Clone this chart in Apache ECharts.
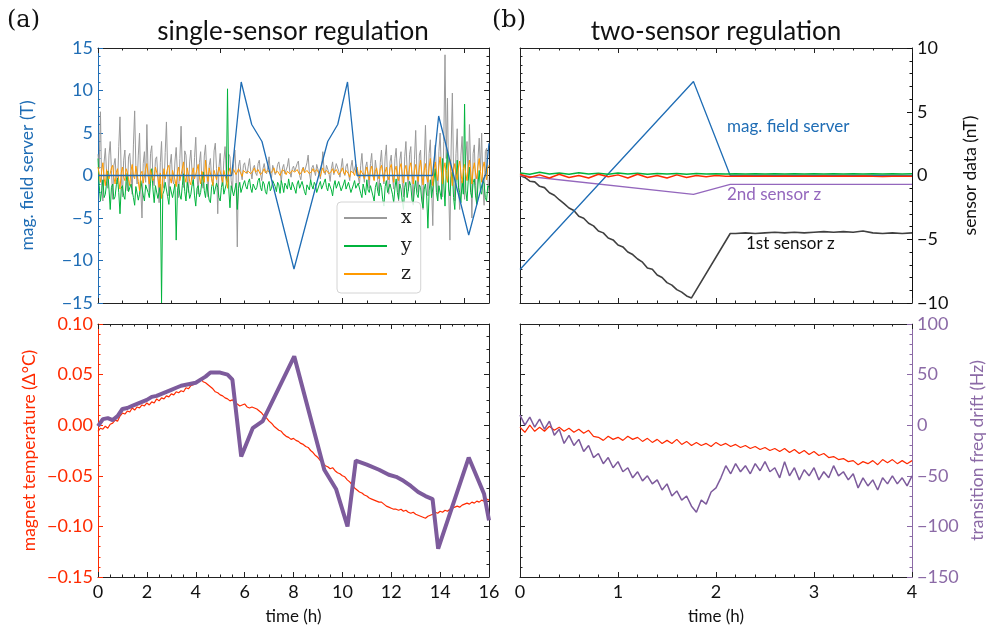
<!DOCTYPE html>
<html><head><meta charset="utf-8">
<script src="https://cdn.jsdelivr.net/npm/echarts@6.0.0/dist/echarts.min.js"></script>
<style>html,body{margin:0;padding:0;background:#fff}#c{width:989px;height:626px}</style>
</head><body><div id="c"></div><script>
// ---------- DATA ----------
// Panel (a) top: sensor noise sampled every 0.05 h (0..16 h)
const xNoise = [
2.5,0.8,7.5,-1.2,-3.0,1.6,3.2,0.4,-1.5,2.4,4.0,0.6,-2.8,1.2,2.0,-0.5,-1.0,3.4,6.9,0.2,
-2.5,1.8,3.0,-0.6,-1.8,2.2,2.6,0.5,-2.2,3.6,7.6,0.9,-1.0,2.4,5.0,-1.6,-5.0,1.4,2.8,-0.8,
6.0,0.3,-2.0,2.6,3.5,-0.4,-1.2,1.9,2.2,0.0,-3.2,1.5,4.0,-0.9,-1.5,2.7,6.3,0.6,-2.4,1.3,
2.5,-0.5,-1.0,1.7,3.3,0.2,-2.6,2.0,5.8,0.7,-1.4,2.9,2.4,-0.3,-2.0,1.6,3.0,0.4,-1.2,2.1,
4.5,0.1,-2.2,1.5,2.8,-0.7,-1.5,2.3,3.6,0.5,-2.5,1.2,2.0,-0.4,-1.0,2.9,3.8,0.8,-4.5,1.0,
2.6,-0.3,-1.2,1.8,3.4,0.3,-0.8,2.5,2.2,-0.6,-1.8,1.4,3.0,0.2,-8.4,1.1,1.8,0.3,-0.5,1.2,
1.5,0.6,0.2,1.1,2.0,0.5,-0.4,0.9,1.2,0.3,0.0,1.4,1.8,0.2,-0.6,0.8,1.4,0.5,0.2,1.0,
2.2,0.4,-0.3,1.2,1.0,0.1,0.4,1.3,1.6,0.6,-0.8,0.9,1.3,0.2,0.1,1.1,2.0,0.4,-0.2,0.8,
1.1,0.5,0.3,1.4,1.7,0.0,-0.5,0.7,1.0,0.4,0.2,1.5,2.4,0.3,-0.6,0.9,1.2,0.6,0.0,1.3,
1.5,0.2,-0.4,1.0,2.8,0.6,0.1,1.2,1.0,0.3,-0.7,0.8,1.6,0.1,0.3,1.4,1.2,0.5,-0.2,0.9,
2.0,0.4,0.0,1.1,1.4,0.2,-0.6,1.0,1.8,0.3,0.4,1.3,1.1,-0.2,-1.0,1.2,2.6,0.4,-0.8,1.0,
1.6,0.2,-1.5,1.4,2.6,0.0,-0.5,1.8,2.0,-0.6,-2.0,1.5,3.0,0.3,-1.0,2.2,3.6,-0.4,-2.2,1.6,
2.4,-0.2,-1.6,2.0,3.2,0.4,-3.0,1.8,2.8,-0.8,-2.5,2.2,4.0,0.6,-1.8,2.5,3.4,-0.5,-3.5,1.9,
5.3,0.2,-2.0,2.4,3.0,-0.9,-4.0,1.6,5.9,0.8,-2.4,2.6,4.2,-1.2,-5.9,1.4,3.6,0.2,-3.0,2.8,
5.0,0.6,-2.5,4.0,14.2,2.0,9.1,-1.5,-7.6,3.0,9.7,0.4,-3.0,2.6,5.5,-1.0,-4.0,2.4,4.6,0.2,
-2.8,2.2,4.0,-0.6,6.0,1.0,-5.0,2.6,3.6,-1.2,-3.0,2.0,4.4,0.6,5.0,-1.4,-3.5,2.8,3.2,-0.4,
-2.0];
const yNoise = [
2.0,-1.2,-3.0,-1.8,-0.5,-2.6,-2.2,-0.9,0.5,-1.6,-4.0,-1.4,-1.0,-2.8,-2.5,-1.1,-0.3,-2.0,-4.5,-1.5,
-1.2,-2.4,-2.8,-0.7,0.3,-1.9,-2.0,-1.0,-0.8,-2.6,-3.5,-1.3,-1.5,-2.9,-2.2,-0.6,-0.4,-2.3,-3.0,-1.1,
-1.0,-2.0,-2.6,-0.9,0.8,-1.7,-3.2,-1.2,-1.4,-2.7,-2.0,-1.0,-15.0,-2.2,-1.8,-0.8,-0.6,-2.5,-3.4,-1.3,
-1.2,-2.6,-2.4,-1.0,-7.6,-1.8,-1.0,-2.3,-2.8,-1.2,0.2,-1.9,-3.0,-0.8,-1.5,-2.7,-2.2,-1.1,-0.5,-2.4,
-3.6,-1.5,-1.2,-2.5,-2.0,-0.7,0.4,-1.8,-2.6,-1.0,-1.0,-2.9,-3.2,-1.3,-0.8,-2.2,-2.4,-0.9,-1.4,-2.6,
-3.0,-1.4,-0.6,-2.2,-2.0,-1.0,10.2,-1.6,-3.8,-1.2,-1.0,-2.4,-2.2,-0.9,-4.0,-1.5,-0.8,-2.0,-1.8,-1.0,
-0.6,-1.3,-1.6,-0.8,-0.4,-1.5,-2.0,-1.0,-0.9,-1.7,-1.4,-0.6,-0.3,-1.4,-1.8,-0.7,-1.0,-1.9,-2.2,-1.1,
-0.7,-1.8,-1.5,-0.6,-0.5,-1.3,-1.9,-0.8,-1.1,-2.1,-0.6,-1.2,-2.0,-0.9,-1.2,-1.6,-0.4,-1.3,-1.7,-0.8,
-0.9,-1.6,-2.1,-1.0,-0.6,-1.5,-1.4,-0.7,-0.8,-1.9,-2.3,-1.1,-1.0,-1.7,-0.5,-1.2,-1.6,-0.8,-1.1,-2.0,
-2.0,-1.1,-0.7,-1.6,-1.5,-0.8,-0.4,-1.4,-1.8,-0.9,-1.0,-1.7,-2.4,-1.2,-0.6,-1.5,-1.3,-0.7,-0.9,-1.8,
-1.9,-1.0,-0.5,-1.6,-1.4,-0.8,-1.0,-2.0,-2.2,-1.1,-0.6,-1.5,-1.7,-0.9,-0.8,-2.1,-2.6,-1.0,-1.2,-2.3,
-0.5,-1.7,-2.0,-1.2,-1.0,-2.4,-3.0,-1.4,-0.8,-1.9,-2.4,-0.9,-1.4,-2.8,-3.6,-1.3,-0.6,-2.0,-2.2,-1.0,
-1.2,-2.2,-3.2,-1.5,-0.4,-2.0,-2.8,-1.0,-1.6,-3.0,-4.0,-1.4,-0.8,-2.6,-2.4,-0.7,-1.2,-2.9,-3.4,-1.6,
-0.6,-2.2,-2.6,-1.1,-1.4,-3.0,-3.8,-1.6,-1.0,-2.4,-6.2,-1.8,-0.5,-2.6,-2.8,-0.4,0.8,-2.0,-3.0,-1.2,
-1.2,-2.8,2.0,-1.0,-3.6,0.6,3.0,-1.6,-2.4,-0.2,0.4,-2.6,-4.0,-0.8,1.8,-1.4,-2.0,-3.2,-0.6,-2.2,
8.4,-1.8,-3.0,-0.6,1.0,-2.0,-2.6,-0.8,-0.4,-2.4,-3.4,-1.0,0.6,-1.8,-2.2,-0.6,-1.0,-2.6,-3.0,-1.2,
-1.4];
const zNoise = [
1.0,0.2,-0.8,0.5,1.5,-0.3,-1.2,0.7,0.6,-0.4,-0.5,0.9,1.2,-0.2,-1.0,0.4,0.8,-0.6,-1.6,0.3,
1.0,-0.2,-0.6,0.8,0.4,-0.5,-1.2,0.6,1.3,0.0,-0.4,1.1,0.9,-0.7,-1.8,0.2,0.5,-0.9,-0.7,0.8,
1.4,0.1,-1.0,0.7,0.6,-0.6,-0.3,1.0,1.1,-0.2,-1.4,0.3,-2.7,-0.5,0.8,-0.4,-0.6,0.9,1.2,-0.3,
-0.9,0.6,0.5,-0.5,-1.3,0.4,1.0,-0.6,-0.4,0.8,1.6,-0.2,-0.8,0.9,0.7,-0.7,-1.1,0.3,0.9,-0.4,
-0.5,0.7,1.3,-0.2,-1.0,0.5,0.4,-0.8,1.8,0.2,-0.7,0.9,1.0,-0.4,-1.2,0.6,0.6,-0.5,-0.3,1.0,
1.1,-0.1,-0.8,0.6,0.5,-0.6,-1.5,0.4,0.9,0.0,-0.2,0.7,0.8,0.1,0.0,0.8,0.7,0.2,-0.1,0.6,
0.8,0.3,0.1,0.5,0.7,0.2,0.0,0.6,0.9,0.4,0.2,0.7,0.6,0.1,-0.1,0.5,0.8,0.3,0.1,0.6,
0.7,0.2,0.0,0.6,0.9,0.3,0.2,0.5,0.6,0.0,-0.1,0.7,0.8,0.4,0.1,0.5,0.7,0.2,0.0,0.6,
0.8,0.4,0.2,0.7,0.6,0.1,-0.1,0.5,0.9,0.3,0.1,0.6,0.7,0.2,0.0,0.5,0.8,0.4,0.2,0.7,
0.6,0.2,-0.1,0.5,0.9,0.3,0.1,0.6,0.7,0.2,0.0,0.5,0.8,0.3,0.2,0.7,0.6,0.1,-0.1,0.5,
0.9,0.4,0.1,0.6,0.8,0.2,-0.2,0.5,0.7,0.3,0.0,0.7,1.0,0.2,-0.3,0.6,0.8,0.1,-0.4,0.5,
1.0,0.2,-0.5,0.7,1.1,0.0,-0.6,0.5,0.9,0.1,-0.4,0.8,1.2,0.3,-0.7,0.4,1.0,0.0,-0.5,0.9,
1.3,0.3,-0.8,0.6,1.1,-0.1,-0.6,0.9,1.4,0.2,-0.9,0.7,1.2,0.0,-0.5,1.0,1.5,0.2,-1.0,0.6,
1.3,0.1,-0.7,0.9,1.8,0.3,-1.1,0.6,1.4,-0.2,-0.8,1.0,2.0,0.4,-1.2,0.8,1.6,0.2,-0.6,1.1,
2.2,0.5,-1.0,0.8,1.5,0.0,-0.8,1.1,1.9,0.3,-1.2,0.6,1.4,0.2,-0.5,1.0,1.7,0.4,-0.9,0.7,
1.3,0.2,-0.6,0.9,1.8,0.4,-1.0,0.7,1.5,0.3,-0.4,1.1,2.0,0.5,-0.8,0.9,1.6,0.6,-0.5,1.0,
1.2];
const serverATime = [0,5.47,5.86,6.29,6.71,8.02,9.40,9.81,10.21,10.6,13.69,13.94,15.17,15.78,15.88,16];
const serverAVals = [0,0,11,6,4,-11,4,6,11,0,0,7,-7,-0.4,0.2,3.8];
// Panel (a) bottom: magnet temperature (delta degC), every 0.1 h
const tempA = [-0.006,-0.003,-0.004,-0.001,-0.003,0.001,0.002,0.005,0.004,0.009,
0.012,0.011,0.014,0.013,0.017,0.015,0.018,0.017,0.020,0.019,
0.022,0.020,0.023,0.022,0.026,0.024,0.027,0.026,0.029,0.028,
0.031,0.030,0.033,0.032,0.034,0.033,0.037,0.036,0.039,0.040,
0.042,0.044,0.046,0.043,0.042,0.040,0.038,0.036,0.033,0.032,
0.030,0.029,0.027,0.026,0.024,0.025,0.022,0.021,0.019,0.020,
0.021,0.018,0.017,0.018,0.017,0.016,0.014,0.012,0.009,0.007,
0.004,0.002,-0.001,-0.003,-0.005,-0.006,-0.009,-0.011,-0.012,-0.014,
-0.013,-0.015,-0.016,-0.018,-0.019,-0.021,-0.022,-0.025,-0.027,-0.030,
-0.032,-0.035,-0.037,-0.040,-0.041,-0.043,-0.042,-0.045,-0.047,-0.048,
-0.050,-0.051,-0.054,-0.056,-0.059,-0.062,-0.064,-0.066,-0.067,-0.069,
-0.070,-0.072,-0.073,-0.074,-0.075,-0.076,-0.076,-0.078,-0.080,-0.081,
-0.082,-0.083,-0.083,-0.084,-0.083,-0.085,-0.084,-0.086,-0.087,-0.086,
-0.088,-0.089,-0.090,-0.091,-0.092,-0.090,-0.089,-0.088,-0.086,-0.087,
-0.085,-0.086,-0.084,-0.085,-0.083,-0.082,-0.081,-0.080,-0.081,-0.079,
-0.078,-0.077,-0.078,-0.076,-0.077,-0.075,-0.076,-0.074,-0.075,-0.073,-0.074];
// Panel (a) bottom: transition frequency drift (Hz)
const freqATime = [0,0.2,0.4,0.6,0.8,1.0,1.2,1.4,1.6,1.8,2.0,2.2,2.4,2.6,2.8,3.0,3.2,3.4,3.6,3.8,4.0,4.2,4.4,4.6,4.8,5.0,5.3,5.5,5.86,6.33,6.74,8.03,9.26,9.74,10.21,10.55,11.0,11.5,11.9,12.2,12.5,12.8,13.1,13.4,13.69,13.92,15.17,15.8,16.0];
const freqAVals = [-1,6,7,5,9,16,17,19,21,23,25,28,29,31,33,35,37,39,40,41,42,45,48,52,52,52,50,45,-31,-3,4,68,-44,-63,-100,-35,-39,-44,-49,-51,-55,-60,-66,-70,-73,-122,-32,-68,-94];
// Panel (b) top
const serverBTime = [0,1.77,2.145,4];
const serverBVals = [-11.06,11.06,0,0];
const sensor1Time = [0,0.05,0.10,0.15,0.20,0.25,0.30,0.35,0.40,0.45,0.50,0.55,0.60,0.65,0.70,0.75,0.80,0.85,0.90,0.95,
1.00,1.05,1.10,1.15,1.20,1.25,1.30,1.35,1.40,1.45,1.50,1.55,1.60,1.65,1.70,1.75,1.77,2.145,
2.2,2.3,2.4,2.5,2.6,2.7,2.8,2.9,3.0,3.1,3.2,3.3,3.4,3.5,3.6,3.7,3.8,3.9,4.0];
const sensor1Vals = [0,-0.15,-0.45,-0.5,-0.85,-0.95,-1.35,-1.55,-1.9,-2.2,-2.55,-2.75,-3.2,-3.35,-3.75,-3.95,-4.35,-4.5,-4.9,-5.05,
-5.45,-5.6,-6.0,-6.2,-6.55,-6.8,-7.25,-7.35,-7.8,-8.0,-8.4,-8.6,-8.95,-9.15,-9.45,-9.6,-9.73,-4.55,
-4.55,-4.5,-4.55,-4.5,-4.45,-4.5,-4.45,-4.5,-4.45,-4.4,-4.45,-4.4,-4.45,-4.35,-4.5,-4.55,-4.5,-4.55,-4.5];
const sensor2Time = [0,1.77,2.145,4];
const sensor2Vals = [0,-1.48,-0.69,-0.7];
// every 0.1 h, 0..4 h
const redB = [0.1,-0.15,0.05,-0.2,0.1,-0.15,0.0,-0.2,0.1,-0.1,0.05,-0.2,0.1,-0.15,0.0,-0.2,0.05,-0.15,0.0,-0.1,
0.0,-0.05,-0.05,-0.03,-0.06,-0.04,-0.05,-0.03,-0.06,-0.04,-0.05,-0.04,-0.06,-0.04,-0.05,-0.03,-0.06,-0.08,-0.05,-0.06,-0.05];
const greenB = [0.2,0.1,0.25,0.12,0.2,0.1,0.22,0.12,0.18,0.1,0.2,0.12,0.18,0.1,0.15,0.12,0.15,0.1,0.15,0.12,
0.14,0.12,0.13,0.12,0.13,0.12,0.13,0.12,0.13,0.12,0.13,0.12,0.13,0.12,0.13,0.12,0.13,0.12,0.13,0.12,0.13];
// Panel (b) bottom, every 0.05 h, 0..4 h
const tempB = [-0.002,-0.007,0.000,-0.006,-0.002,-0.006,-0.001,-0.005,-0.002,-0.006,
-0.003,-0.007,-0.004,-0.008,-0.005,-0.011,-0.012,-0.015,-0.011,-0.014,
-0.012,-0.015,-0.011,-0.014,-0.012,-0.016,-0.013,-0.017,-0.014,-0.018,
-0.015,-0.018,-0.014,-0.019,-0.016,-0.020,-0.017,-0.020,-0.018,-0.021,
-0.017,-0.020,-0.018,-0.021,-0.019,-0.022,-0.020,-0.023,-0.021,-0.024,
-0.022,-0.025,-0.023,-0.026,-0.023,-0.027,-0.024,-0.028,-0.025,-0.029,
-0.026,-0.030,-0.028,-0.032,-0.031,-0.034,-0.033,-0.036,-0.035,-0.039,
-0.036,-0.038,-0.035,-0.039,-0.034,-0.037,-0.034,-0.038,-0.035,-0.038,-0.035];
const freqB = [10,0,8,-2,6,-4,4,-10,-4,-18,-10,-20,-14,-26,-20,-32,-28,-38,-32,-42,
-36,-46,-42,-52,-46,-55,-50,-58,-54,-64,-58,-70,-65,-74,-70,-80,-86,-74,-78,-66,
-62,-52,-40,-48,-38,-46,-40,-48,-38,-45,-36,-46,-42,-52,-36,-50,-42,-54,-44,-50,
-42,-54,-46,-52,-40,-50,-46,-54,-48,-62,-52,-60,-54,-64,-52,-58,-50,-58,-52,-60,-50];
// axis tick settings
const ticksA_top = {min:0, max:16, step:5};
const ticksA_bot = {min:0, max:16, step:2};
const ticksB = {min:0, max:4, step:1};

// ---------- HELPERS ----------
const seqT = (n, step) => Array.from({length:n}, (_, i) => +(i*step).toFixed(3));
const pairs = (ts, vs) => vs.map((v, i) => [ts[i], v]);
const FONT = 'Lato, "Open Sans", sans-serif';
const SERIF = '"DejaVu Serif", "Liberation Serif", serif';
const C = {blue:'#1f6db5', red:'#ff2a00', purple:'#7d5b9c', purpleL:'#9467bd', purpleTxt:'#8b6aa6',
  gray:'#9a9a9a', green:'#00b33c', orange:'#ff9a00', black:'#404040', spine:'#222'};
const minus = s => s.replace('-', '\u2212');

function xAx(gi, pos, r, minor, labels, name) {
  return {type:'value', gridIndex:gi, position:pos, min:r.min, max:r.max, interval:r.step,
    axisLine:{show:true, onZero:false, lineStyle:{color:C.spine, width:1}},
    axisTick:{show:true, inside:true, length:5, lineStyle:{color:C.spine}},
    minorTick:{show:true, splitNumber:minor, length:2.5, lineStyle:{color:C.spine}},
    splitLine:{show:false},
    axisLabel:{show:labels, color:'#111', fontFamily:FONT, fontSize:18, margin:6},
    name:name||'', nameLocation:'middle', nameGap:31,
    nameTextStyle:{color:'#111', fontFamily:FONT, fontSize:17}};
}
function yAx(gi, pos, min, max, step, minor, color, labels, fmt, name, gap) {
  return {type:'value', gridIndex:gi, position:pos, min, max, interval:step,
    axisLine:{show:true, onZero:false, lineStyle:{color:color, width:1}},
    axisTick:{show:true, inside:true, length:5, lineStyle:{color:color}},
    minorTick:{show:true, splitNumber:minor, length:2.5, lineStyle:{color:color}},
    splitLine:{show:false},
    axisLabel:{show:labels, color:color, fontFamily:FONT, fontSize:18, margin:5, formatter:fmt},
    name:name||'', nameLocation:'middle', nameGap:gap||40, nameRotate:90,
    nameTextStyle:{color:color, fontFamily:FONT, fontSize:17.5}};
}
const fmtInt = v => minus(String(Math.round(v)));
const fmt2 = v => { const r = Math.round(v*100)/100; return (r < 0 ? '\u2212' : '') + Math.abs(r).toFixed(2); };

function line(name, xi, yi, data, color, width, z) {
  return {name, type:'line', xAxisIndex:xi, yAxisIndex:yi, data, showSymbol:false, symbol:'none',
    lineStyle:{color, width}, itemStyle:{color}, animation:false, z:z||2};
}

const tA = seqT(xNoise.length, 0.05);
const tA2 = seqT(tempA.length, 0.1);
const tB1 = seqT(redB.length, 0.1);
const tB2 = seqT(tempB.length, 0.05);

const chart = echarts.init(document.getElementById('c'), null, {renderer:'canvas'});
chart.setOption({
  backgroundColor:'#fff',
  animation:false,
  grid:[
    {left:98, top:48, width:391, height:255},
    {left:520, top:48, width:392, height:255},
    {left:98, top:324, width:391, height:254},
    {left:520, top:324, width:392, height:254}
  ],
  xAxis:[
    xAx(0,'bottom',ticksA_top,5,false), xAx(0,'top',ticksA_top,5,false),
    xAx(1,'bottom',ticksB,5,false), xAx(1,'top',ticksB,5,false),
    xAx(2,'bottom',ticksA_bot,4,true,'time (h)'), xAx(2,'top',ticksA_bot,4,false),
    xAx(3,'bottom',ticksB,5,true,'time (h)'), xAx(3,'top',ticksB,5,false)
  ],
  yAxis:[
    yAx(0,'left',-15,15,5,5,C.blue,true,fmtInt,'mag. field server (T)',62),
    yAx(0,'right',-15,15,5,5,C.spine,false),
    yAx(1,'left',-15,15,5,5,C.spine,false),
    yAx(1,'right',-10,10,5,5,'#111',true,fmtInt,'sensor data (nT)',49),
    yAx(2,'left',-0.15,0.10,0.05,5,C.red,true,fmt2,'magnet temperature (\u0394\u00b0C)',60),
    yAx(2,'right',-150,100,50,4,C.spine,false),
    yAx(3,'left',-0.15,0.10,0.05,5,C.spine,false),
    yAx(3,'right',-150,100,50,5,C.purpleTxt,true,fmtInt,'transition freq drift (Hz)',56)
  ],
  legend:{data:['x','y','z'], orient:'vertical', left:337, top:202, icon:'rect', itemWidth:43, itemHeight:2, itemGap:8,
    padding:[6,9,9,7], backgroundColor:'rgba(255,255,255,0.85)', borderColor:'#d4d4d4', borderWidth:1, borderRadius:4,
    textStyle:{fontFamily:SERIF, fontSize:19, lineHeight:20, color:'#222', padding:[0,0,0,9]}},
  series:[
    line('x',0,0,pairs(tA,xNoise),C.gray,1),
    line('y',0,0,pairs(tA,yNoise),C.green,1),
    line('z',0,0,pairs(tA,zNoise),C.orange,1),
    line('server',0,0,pairs(serverATime,serverAVals),C.blue,1.3,3),
    line('sensor1',2,3,pairs(sensor1Time,sensor1Vals),C.black,1.6),
    line('sensor2',2,3,pairs(sensor2Time,sensor2Vals),C.purpleL,1.3),
    line('serverB',2,2,pairs(serverBTime,serverBVals),C.blue,1.3),
    line('greenB',2,3,pairs(tB1,greenB),C.green,1.5),
    line('redB',2,3,pairs(tB1,redB),C.red,1.5),
    line('tempA',4,4,pairs(tA2,tempA),C.red,1.2),
    line('freqA',4,5,pairs(freqATime,freqAVals),C.purple,4,3),
    line('tempB',6,6,pairs(tB2,tempB),C.red,1.2),
    line('freqB',6,7,pairs(tB2,freqB),C.purple,1.5,3)
  ],
  graphic:[
    {type:'text', left:7, top:9, style:{text:'(a)', font:'24px '+SERIF, fill:'#111'}},
    {type:'text', left:492, top:9, style:{text:'(b)', font:'24px '+SERIF, fill:'#111'}},
    {type:'text', x:293, y:32, style:{text:'single-sensor regulation', font:'26px '+FONT, fill:'#111', textAlign:'center', textVerticalAlign:'middle'}},
    {type:'text', x:716, y:32, style:{text:'two-sensor regulation', font:'26px '+FONT, fill:'#111', textAlign:'center', textVerticalAlign:'middle'}},
    {type:'text', x:727, y:127, style:{text:'mag. field server', font:'17px '+FONT, fill:C.blue, textVerticalAlign:'middle'}},
    {type:'text', x:727, y:195, style:{text:'2nd sensor z', font:'17px '+FONT, fill:C.purpleL, textVerticalAlign:'middle'}},
    {type:'text', x:746, y:244, style:{text:'1st sensor z', font:'17px '+FONT, fill:'#111', textVerticalAlign:'middle'}}
  ]
});
</script></body></html>
